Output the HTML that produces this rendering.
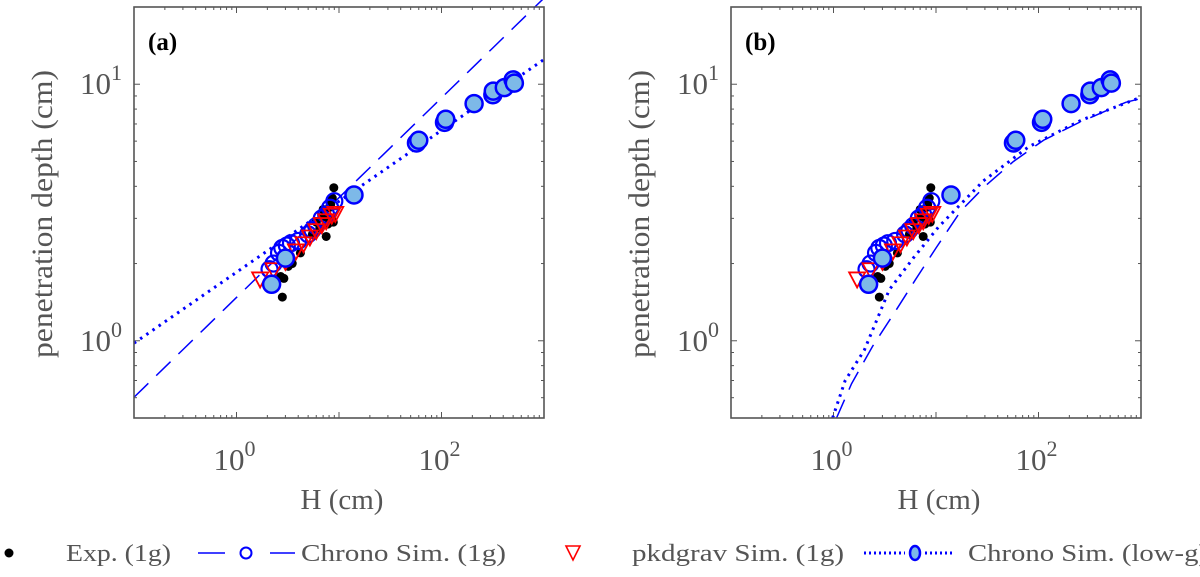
<!DOCTYPE html>
<html><head><meta charset="utf-8"><style>
html,body{margin:0;padding:0;background:#fff;}
svg{display:block;font-family:"Liberation Serif",serif;}
text{font-family:"Liberation Serif",serif;}
</style></head><body>
<svg id="fig" width="1200" height="577" viewBox="0 0 1200 577" xmlns="http://www.w3.org/2000/svg" font-family="Liberation Serif, serif">
<g id="panels"></g>
<g id="legend"></g>
</svg>
<script>
// ---- data ----
const expH = [2.8,2.9,2.7,3.2,3.5,4.2,5.5,6.5,7.5,7.8,8.5,8.0,8.6,8.9,7.2,8.8,7.0,6.0,8.3];
const expD = [1.48,1.75,1.78,1.95,2.0,2.2,2.6,2.75,2.55,2.85,3.0,3.3,3.6,3.95,3.05,2.9,3.25,2.9,3.4];
const chronoH = [2.1,2.3,2.6,2.8,3.1,3.4,4.0,5.0,5.5,6.0,6.8,7.5,8.2,9.0];
const chronoD = [1.9,2.0,2.2,2.3,2.35,2.4,2.45,2.6,2.7,2.8,3.0,3.1,3.3,3.5];
const pkdH = [1.7,2.3,3.0,3.8,4.5,5.2,6.0,6.8,7.5,8.5,9.2];
const pkdD = [1.75,1.9,2.05,2.25,2.4,2.55,2.7,2.85,2.95,3.1,3.15];
const lowgH = [2.2,3.0,14,57,60,107,110,208,317,320,410,500,514];
const lowgD = [1.66,2.1,3.7,5.9,6.05,7.1,7.3,8.4,9.1,9.4,9.7,10.4,10.1];
// fits panel (a): power law D = a*H^b
const fitA_dash = [1.475, 0.389];
const fitA_dot = [1.85, 0.2765];
// fits panel (b): sampled curves
const fitB_dashH = [1.07,1.5,2.4,4,6.3,10,17.4,30,57,112,250,710,1000];
const fitB_dashD = [0.5,0.68,0.95,1.3,1.73,2.3,3.2,4.0,5.0,6.05,7.1,8.5,8.8];
const fitB_dotH = [0.98,1.3,2.0,3.5,6,10.6,29,80,263,1000];
const fitB_dotD = [0.5,0.7,0.92,1.58,2.1,2.78,4.2,5.7,7.25,8.9];
const xTicks = [0,2];
const yTicks = [0,1];

const NS="http://www.w3.org/2000/svg";
function mk(tag,attrs,parent){const e=document.createElementNS(NS,tag);for(const k in attrs)e.setAttribute(k,attrs[k]);if(parent)parent.appendChild(e);return e;}
const GRAY="#555", BLUE="#0000ff", LB="#7db9e8";

function panel(ox, label, isA){
  const L=ox, R=ox+410, T=7, B=418;
  const X=h=>L+(Math.log10(h)+1)/4*(R-L);
  const Y=d=>B-(Math.log10(d)-Math.log10(0.5))/(Math.log10(20)-Math.log10(0.5))*(B-T);
  const g=mk('g',{},document.getElementById('panels'));
  
  
  mk('defs',{},g).innerHTML=`<clipPath id="clip${label}"><rect x="${L}" y="${T}" width="${R-L}" height="${B-T}"/></clipPath>`;
  const tk=mk('g',{stroke:GRAY,'stroke-width':1},g);
  
  
  for(let e=-1;e<3;e++)for(let m=1;m<10;m++){const v=m*Math.pow(10,e);if(e===-1&&m===1)continue;const x=X(v);const l=m===1?6:3;
    mk('line',{x1:x,x2:x,y1:B,y2:B-l},tk);mk('line',{x1:x,x2:x,y1:T,y2:T+l},tk);}
  for(let e=-1;e<2;e++)for(let m=1;m<10;m++){const v=m*Math.pow(10,e);if(v<=0.5||v>=20)continue;const y=Y(v);const l=m===1?6:3;
    mk('line',{x1:L,x2:L+l,y1:y,y2:y},tk);mk('line',{x1:R,x2:R-l,y1:y,y2:y},tk);}
  xTicks.forEach(p=>{const t=mk('text',{x:X(Math.pow(10,p))-2,y:470,'font-size':31,fill:GRAY,'text-anchor':'middle'},g);
    
    t.innerHTML=`10<tspan dy="-14" font-size="22">${p}</tspan>`;});
  yTicks.forEach(p=>{const t=mk('text',{x:L-12,y:Y(Math.pow(10,p))+10,'font-size':31,fill:GRAY,'text-anchor':'end'},g);
    
    t.innerHTML=`10<tspan dy="-14" font-size="22">${p}</tspan>`;});
  const xl=mk('text',{x:(L+R)/2+3,y:509,'font-size':29,fill:GRAY,'text-anchor':'middle'},g);xl.textContent='H (cm)';
  
  const yx=L-92;
  const yl=mk('text',{x:0,y:0,'font-size':30,fill:GRAY,'text-anchor':'middle',transform:`translate(${yx+10},${214}) rotate(-90)`,textLength:288,lengthAdjust:'spacingAndGlyphs'},g);
  yl.textContent='penetration depth (cm)';
  
  const pl=mk('text',{x:L+14,y:50,'font-size':25,'font-weight':'bold',fill:'#000'},g);pl.textContent=label;
  
  const c=mk('g',{'clip-path':`url(#clip${label})`},g);
  let dashPts=[],dotPts=[];
  if(isA){for(let i=0;i<=40;i++){const lh=-1+i*0.1,h=Math.pow(10,lh);
      dashPts.push([X(h),Y(fitA_dash[0]*Math.pow(h,fitA_dash[1]))]);dotPts.push([X(h),Y(fitA_dot[0]*Math.pow(h,fitA_dot[1]))]);}}
  else{dashPts=fitB_dashH.map((h,i)=>[X(h),Y(fitB_dashD[i])]);dotPts=fitB_dotH.map((h,i)=>[X(h),Y(fitB_dotD[i])]);}
  const dl=mk('polyline',{points:dashPts.map(p=>p.join(',')).join(' '),fill:'none',stroke:BLUE,'stroke-width':1.5,'stroke-dasharray':'20 11'},c);
  
  const dt=mk('polyline',{points:dotPts.map(p=>p.join(',')).join(' '),fill:'none',stroke:BLUE,'stroke-width':3,'stroke-dasharray':'2.5 5'},c);
  
  expH.forEach((h,i)=>{const e=mk('circle',{cx:X(h),cy:Y(expD[i]),r:4.5,fill:'#000'},c);
    });
  chronoH.forEach((h,i)=>{const e=mk('circle',{cx:X(h),cy:Y(chronoD[i]),r:8,fill:'none',stroke:BLUE,'stroke-width':2.2},c);
    });
  pkdH.forEach((h,i)=>{const x=X(h),y=Y(pkdD[i]);const e=mk('polygon',{points:`${x-8},${y-6} ${x+8},${y-6} ${x},${y+9}`,fill:'none',stroke:'#ff0000','stroke-width':1.8},c);
    });
  lowgH.forEach((h,i)=>{const e=mk('circle',{cx:X(h),cy:Y(lowgD[i]),r:8.5,fill:LB,stroke:BLUE,'stroke-width':2.5},c);
    });
  const box=mk('rect',{x:L,y:T,width:R-L,height:B-T,fill:'none',stroke:GRAY,'stroke-width':1.6},g);
  
}
panel(134,'(a)',true);
panel(731,'(b)',false);

const lg=document.getElementById('legend');
const LY=553;
function ltext(x,s,w){const t=mk('text',{x:x,y:LY+8,'font-size':24,fill:GRAY,textLength:w,lengthAdjust:'spacingAndGlyphs'},lg);t.textContent=s;
  }
let e=mk('circle',{cx:9,cy:LY,r:4.5,fill:'#000'},lg);

ltext(66,'Exp. (1g)',105);
mk('line',{x1:198,x2:225,y1:LY,y2:LY,stroke:BLUE,'stroke-width':1.5},lg);
mk('line',{x1:270,x2:295,y1:LY,y2:LY,stroke:BLUE,'stroke-width':1.5},lg);
e=mk('circle',{cx:246,cy:LY,r:5.5,fill:'none',stroke:BLUE,'stroke-width':2},lg);

ltext(301,'Chrono Sim. (1g)',205);
e=mk('polygon',{points:`566,${LY-7} 580,${LY-7} 573,${LY+7}`,fill:'none',stroke:'#ff0000','stroke-width':1.6},lg);

ltext(632,'pkdgrav Sim. (1g)',212);
mk('line',{x1:864,x2:905,y1:LY,y2:LY,stroke:BLUE,'stroke-width':3,'stroke-dasharray':'2 3'},lg);
mk('line',{x1:925,x2:954,y1:LY,y2:LY,stroke:BLUE,'stroke-width':3,'stroke-dasharray':'2 3'},lg);
e=mk('ellipse',{cx:915,cy:LY,rx:5,ry:7,fill:LB,stroke:BLUE,'stroke-width':2.5},lg);

ltext(968,'Chrono Sim. (low-g)',240);
</script>
</body></html>
